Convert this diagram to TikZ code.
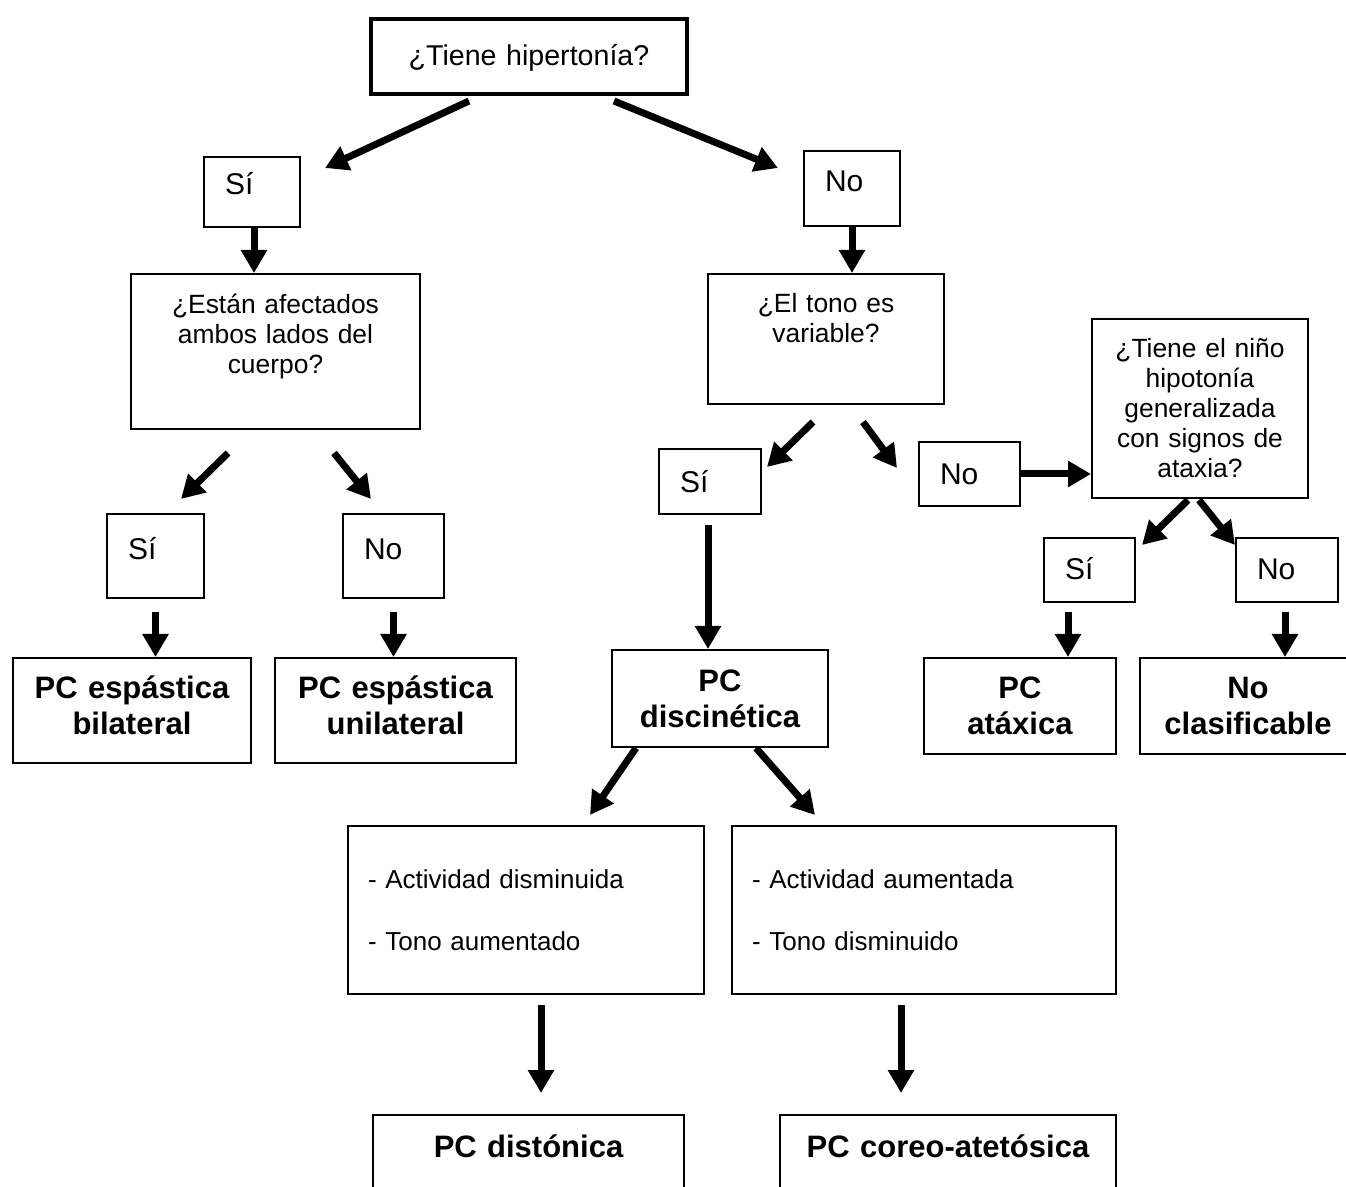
\documentclass[tikz,border=0pt]{standalone}
\usepackage{fontspec}
\setmainfont{Liberation Sans}
\usetikzlibrary{arrows.meta}
\begin{document}
\begin{tikzpicture}[
    x=0.5pt, y=-0.5pt,
    every node/.style={draw=black, line width=1pt, inner sep=0pt, anchor=north west},
    ask/.style n args={3}{minimum width=#1, minimum height=#2, text width=#1-14pt,
      align=center, font=\fontsize{13.2}{15}\selectfont, text height=9.5pt, text depth=#3},
    ans/.style n args={3}{minimum width=#1, minimum height=#2, text width=#1-21pt,
      align=left, font=\fontsize{15}{17}\selectfont, text height=10.7pt, text depth=#3},
    res/.style 2 args={minimum width=#1, minimum height=#2, text width=#1-8pt,
      align=center, font=\bfseries\fontsize{15.5}{18}\selectfont},
    lst/.style 2 args={minimum width=#1, minimum height=#2, text width=#1-20pt,
      align=left, font=\fontsize{13}{15}\selectfont},
    arr/.style={line width=3.5pt, -{Triangle[length=11.5pt,width=12.5pt]}}
    ]
    \path[use as bounding box] (0,0) rectangle (1346,1187);
    \clip (0,0) rectangle (1346,1187);

    \node[ask={158pt}{37.5pt}{1pt}, font=\fontsize{14.3}{16}\selectfont, text height=10.2pt, line width=2pt] (hyper) at (369,17) {¿Tiene hipertonía?};
    \node[ans={48pt}{35pt}{8pt}] (yes1) at (203,156) {Sí};
    \node[ans={48pt}{37.5pt}{7.5pt}] (no1) at (803,150) {No};
    \node[ask={144.5pt}{77.5pt}{47.5pt}] (sides) at (130,273) {¿Están afectados\\ambos lados del\\cuerpo?};
    \node[ask={118pt}{65pt}{36pt}] (tone) at (707,273) {¿El tono es\\variable?};
    \node[ans={48.5pt}{42pt}{7pt}] (yes2) at (106,513) {Sí};
    \node[ans={50.5pt}{42pt}{7pt}] (no2) at (342,513) {No};
    \node[res={119pt}{52.5pt}, text height=11pt, text depth=23pt] (bilat) at (12,657) {PC espástica\\bilateral};
    \node[res={120.5pt}{52.5pt}, text height=11pt, text depth=23pt] (unilat) at (274,657) {PC espástica\\unilateral};
    \node[ans={51pt}{32.5pt}{0pt}] (yes3) at (658,448) {Sí};
    \node[ans={50.5pt}{32pt}{0pt}] (no3) at (918,441) {No};
    \node[ask={108pt}{89.5pt}{60pt}] (ataxia) at (1091,318) {¿Tiene el niño\\hipotonía\\generalizada\\con signos de\\ataxia?};
    \node[ans={45.5pt}{32pt}{1pt}] (yes4) at (1043,537) {Sí};
    \node[ans={51pt}{32pt}{1pt}] (no4) at (1235,537) {No};
    \node[res={108pt}{48.5pt}] (diskin) at (611,649) {PC\\discinética};
    \node[res={96pt}{48pt}] (atax) at (923,657) {PC\\atáxica};
    \node[res={108pt}{48pt}] (unclass) at (1139,657) {No\\clasificable};
    \node[lst={178pt}{84pt}] (low) at (347,825) {- Actividad disminuida\\[16pt]- Tono aumentado};
    \node[lst={192pt}{84pt}] (high) at (731,825) {- Actividad aumentada\\[16pt]- Tono disminuido};
    \node[res={155.5pt}{48pt}, text height=11pt, text depth=17pt] (dyston) at (372,1114) {PC distónica};
    \node[res={168pt}{48pt}, text height=11pt, text depth=17pt] (choreo) at (779,1114) {PC coreo-atetósica};

    \draw[arr] ([shift={(-60,5)}]hyper.south) -- ([shift={(24,12)}]yes1.north east);
    \draw[arr] ([shift={(85,5)}]hyper.south) -- ([shift={(-25,18)}]no1.north west);
    \draw[arr] ([shift={(2,0)}]yes1.south) -- ([shift={(-21.5,0)}]sides.north);
    \draw[arr] (no1.south) -- ([shift={(26,0)}]tone.north);
    \draw[arr] ([shift={(-47.5,23)}]sides.south) -- ([shift={(-24,-14)}]yes2.north east);
    \draw[arr] ([shift={(58.5,23)}]sides.south) -- ([shift={(-22.5,-14)}]no2.north);
    \draw[arr] ([shift={(0,13)}]yes2.south) -- ([shift={(23.5,0)}]bilat.north);
    \draw[arr] ([shift={(0,13)}]no2.south) -- ([shift={(-2,0)}]unilat.north);
    \draw[arr] ([shift={(-13,17)}]tone.south) -- ([shift={(5,19)}]yes3.north east);
    \draw[arr] ([shift={(37,17)}]tone.south) -- ([shift={(-21,27)}]no3.north west);
    \draw[arr] ([shift={(-2,10)}]yes3.south) -- ([shift={(-12,0)}]diskin.north);
    \draw[arr] (no3.east) -- (no3.east -| ataxia.west);
    \draw[arr] ([shift={(-12,1)}]ataxia.south) -- ([shift={(6,8)}]yes4.north east);
    \draw[arr] ([shift={(-1,1)}]ataxia.south) -- ([shift={(0,8)}]no4.north west);
    \draw[arr] ([shift={(-21.5,9)}]yes4.south) -- ([shift={(48,0)}]atax.north);
    \draw[arr] ([shift={(-2,9)}]no4.south) -- ([shift={(37,0)}]unclass.north);
    \draw[arr] ([shift={(-84,0)}]diskin.south) -- ([shift={(-115,-10)}]low.north east);
    \draw[arr] ([shift={(36,0)}]diskin.south) -- ([shift={(84,-10)}]high.north west);
    \draw[arr] ([shift={(15,10)}]low.south) -- ([shift={(12.5,-21)}]dyston.north);
    \draw[arr] ([shift={(-23,10)}]high.south) -- ([shift={(-47,-21)}]choreo.north);
\end{tikzpicture}
\end{document}
